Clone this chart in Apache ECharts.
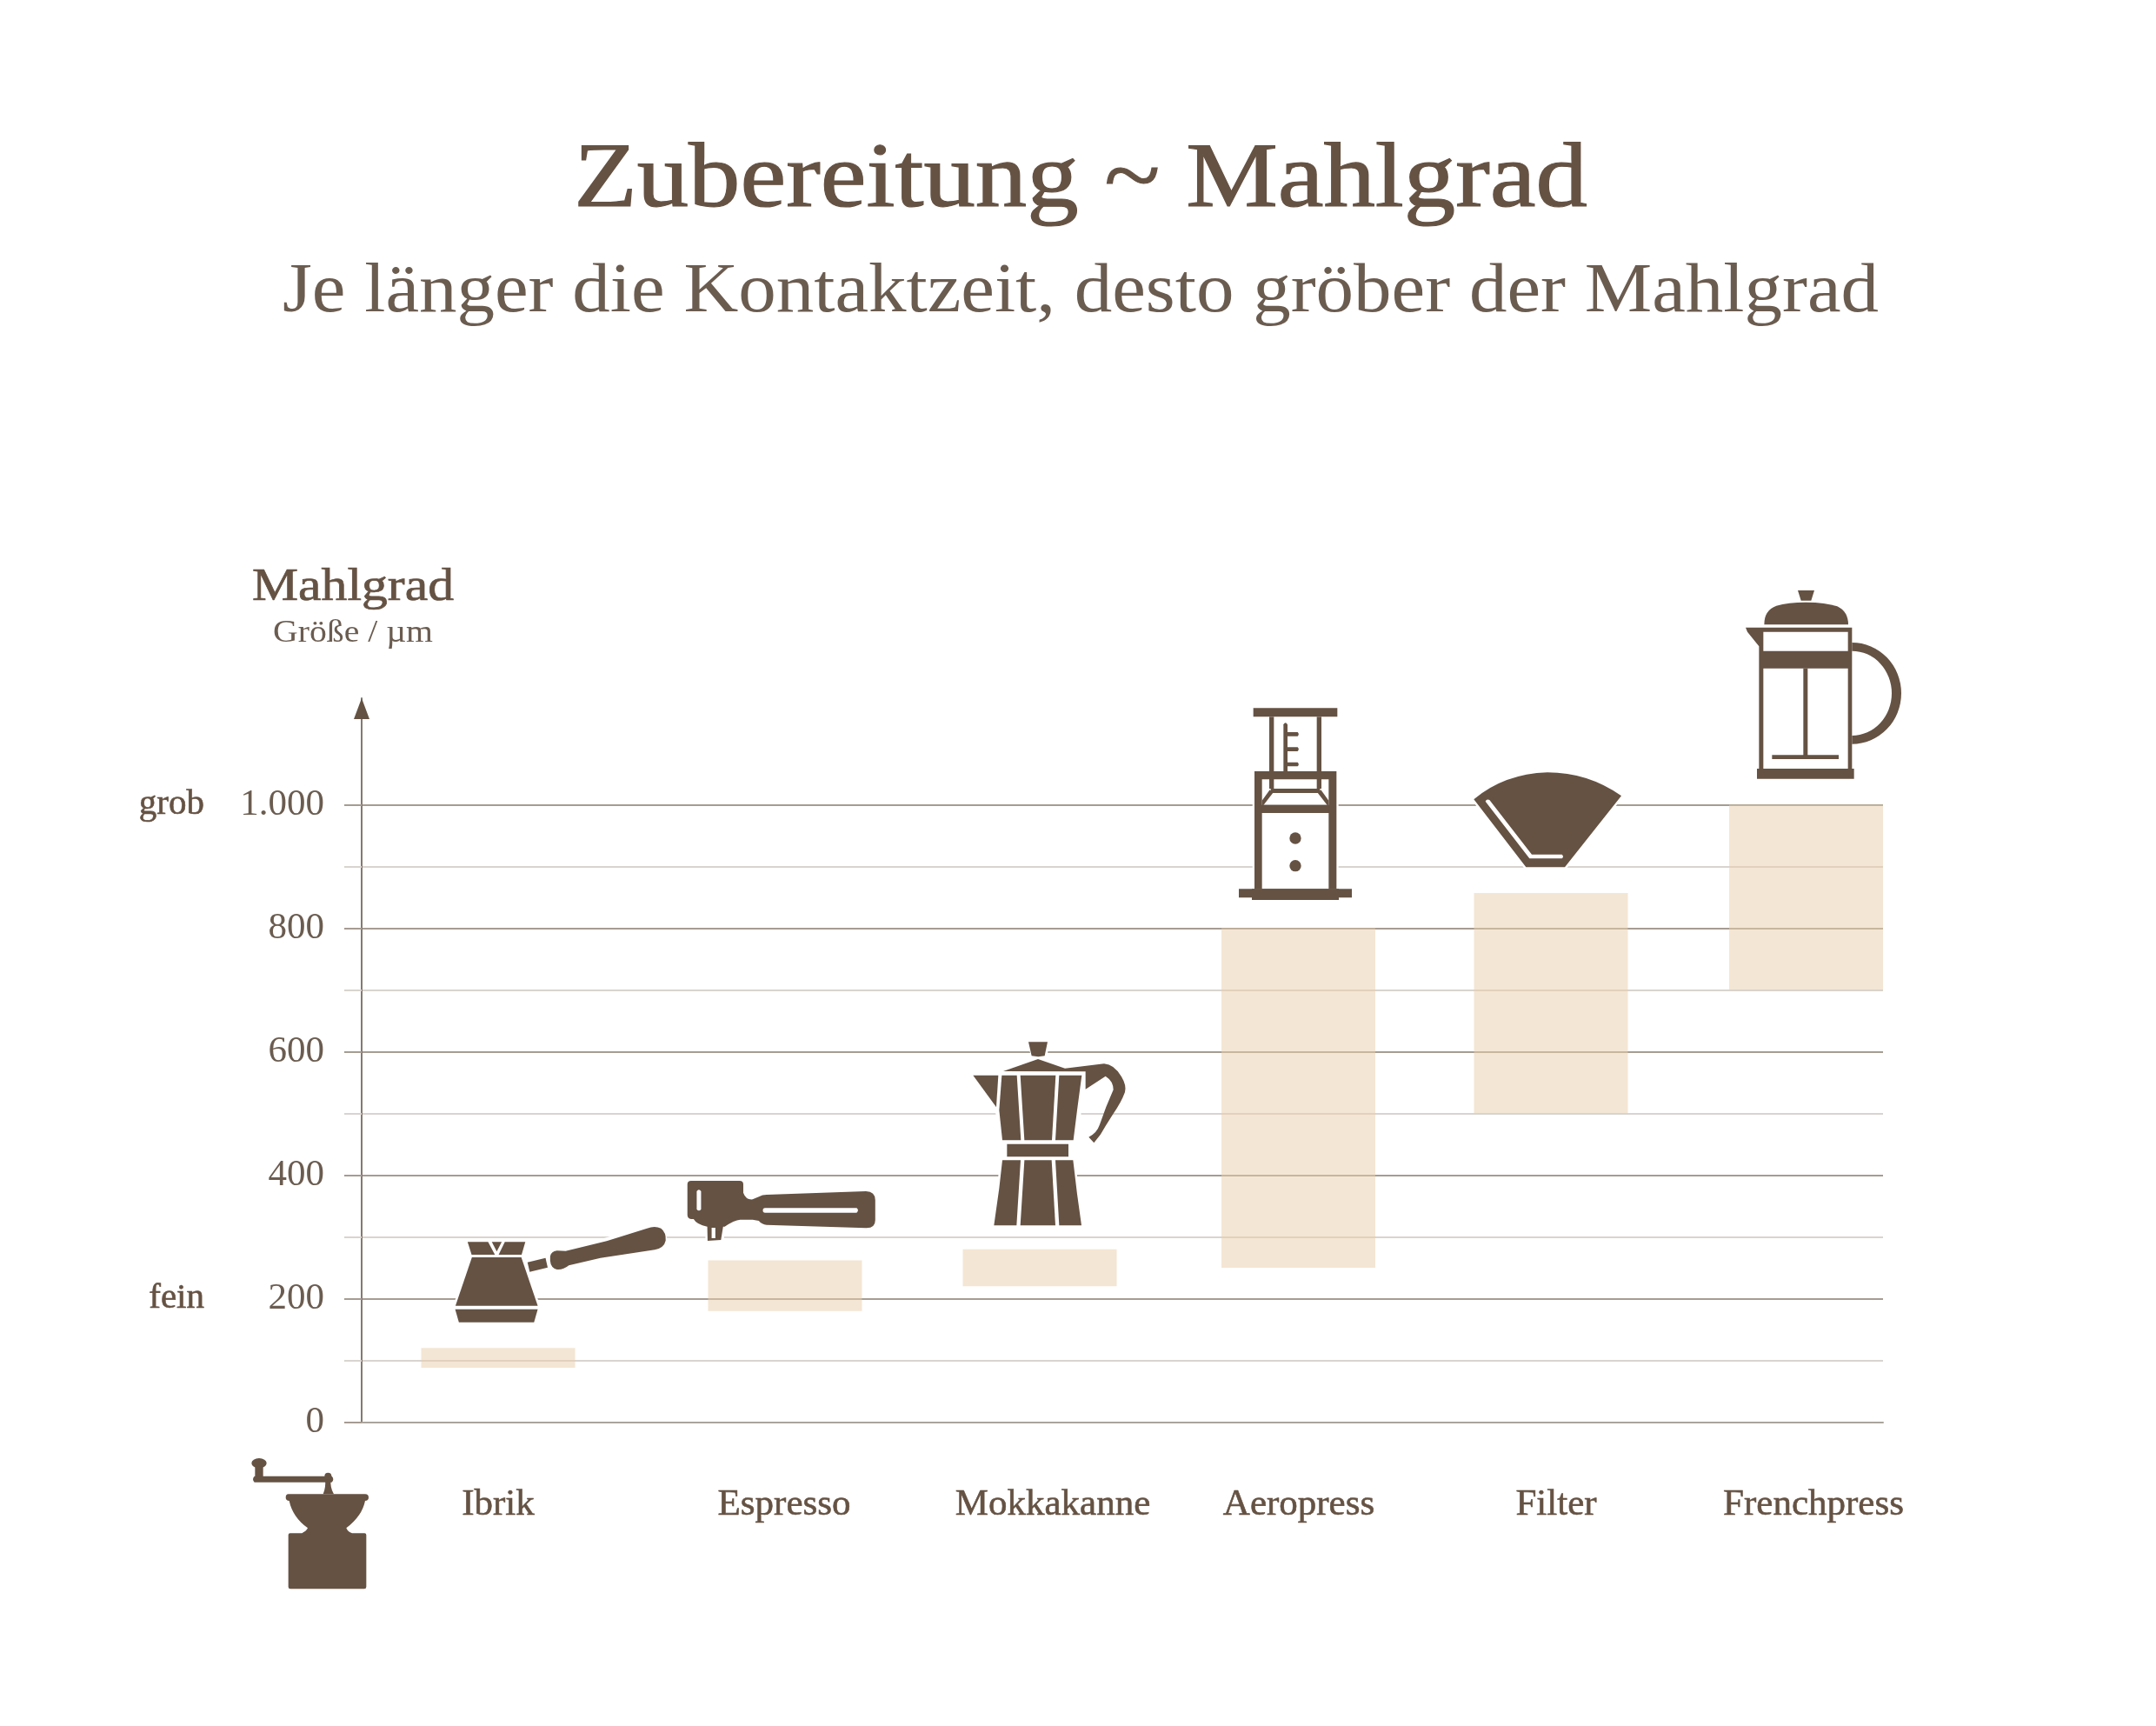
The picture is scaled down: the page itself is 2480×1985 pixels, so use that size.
<!DOCTYPE html>
<html><head><meta charset="utf-8">
<script src="https://cdn.jsdelivr.net/npm/echarts@6/dist/echarts.min.js"></script>
<style>html,body{margin:0;padding:0;background:#fff}#c{width:2480px;height:1985px}</style>
</head><body><div id="c"></div>
<script>
const categories = ['Ibrik','Espresso','Mokkakanne','Aeropress','Filter','Frenchpress'];
const grindLow  = [88,180,220,250,500,700];
const grindHigh = [120,262,280,800,857,1000];
const majorTicks = [0,200,400,600,800,1000];
const minorTicks = [100,300,500,700,900];
const qualityTicks = [200,1000];
const qualityLabels = ['fein','grob'];
// layout (horizontal slot positions along the hidden x scale)
const barCentres = [157,487,780,1077.5,1368,1661.5];
const barWidth = 177;
const labelCentres = [157,486,795,1078,1374,1670];

const BROWN='#655243', TEXT='#6b5c50', SERIF='"Liberation Serif",serif';

// ---------- icons: paths in crop units, origin = icon's top-left in the page
const R=(a,b,c,d)=>`M${a} ${b}L${c} ${b}L${c} ${d}L${a} ${d}Z`;
const H=(a,b,c,d)=>`M${a} ${b}L${a} ${d}L${c} ${d}L${c} ${b}Z`; // reversed winding = hole
const C=(x,y,r)=>`M${x-r} ${y}A${r} ${r} 0 1 1 ${x+r} ${y}A${r} ${r} 0 1 1 ${x-r} ${y}Z`;
const icons=[
 {o:[416,803],sx:1,sy:1,halo:'',p:['M0 0L9 24L-9 24Z']},
 {o:[480,1180],sx:1/2.8,halo:'M162 745L348 745L336 798L388 965L388 977L376 1022L134 1022L122 977L123 965L176 798ZM355 815L413 800L420 833L362 848Z'+
   'M428 795L450 775L478 776L740 698L785 698L800 740L765 772L590 800L488 826L450 840L428 810Z',
  p:['M162 745L228 745L250 789L175 789Z','M282 745L348 745L336 789L262 789Z','M240 745L272 745L256 778Z',
   'M176 798L335 798L388 965L123 965Z','M122 977L388 977L376 1022L134 1022Z','M355 815L413 800L420 833L362 848Z',
   'M428 795Q430 778 450 775L478 776L610 742L740 698Q765 688 785 698Q802 712 800 740Q795 765 765 772L590 800L488 826Q470 842 450 840Q430 835 428 810Z']},
 {o:[480,1180],sx:1/2.8,halo:'M870 550L1050 535L1050 580L1080 600L1110 585L1475 575L1475 695L1110 685L1080 670L1020 670L985 690L980 740L935 740L935 695L890 670L870 660Z',
  p:['M882 534L1038 534Q1050 534 1050 546L1050 575Q1058 600 1080 598L1102 588Q1110 582 1125 582L1445 570Q1475 572 1475 600L1475 670Q1475 698 1445 697L1125 686Q1110 685 1100 672L1080 668L1040 668Q1020 670 990 692L985 692L978 738L935 741L934 692Q900 685 890 666L882 666Q870 664 870 652L870 546Q870 534 882 534Z'+
     'M900 570L900 632Q907 642 914 632L914 570Q907 560 900 570Z'+
     'M1113 636Q1113 644 1120 644L1415 644Q1424 636 1415 628L1120 628Q1113 628 1113 636Z'+
     'M948 696L948 732L960 732L960 696Z']},
 {o:[1090,1180],halo:'M279 55L345 55L335 110L475 150L463 170L447 394L433 463L462 688L160 688L189 463L189 394L170 285L88 170L190 150L300 112Z',
  p:['M279 55L345 55L335 103L313 106L290 103Z',
   'M192 156L312 114L405 146L540 130Q575 132 600 175Q618 205 612 228Q600 262 570 305L545 345Q530 375 505 403L487 383Q515 370 525 340Q545 280 572 220Q572 190 545 173L476 218L476 157Z',
   'M88 170L175 170L168 280Z','M187 170L239 170L253 394L189 394L178 290Z','M251 170L373 170L360 394L265 394Z',
   'M385 170L463 170L447 290L434 394L372 394Z',R(205,407,417,451),'M189 463L252 463L238 688L160 688L178 560Z',
   'M265 463L359 463L372 688L251 688Z','M372 463L433 463L447 580L462 688L385 688Z']},
 {o:[1400,790],halo:R(125,73,415,103)+R(180,103,360,291)+R(129,291,412,697)+R(75,697,465,727)+R(120,697,420,735),
  p:[R(125,73,415,103),R(180,103,196,351),R(344,103,360,351),
   'M229 130Q236 118 243 130L243 292L229 292Z',
   'M243 156L278 156Q285 163 278 170L243 170Z','M243 208L278 208Q285 215 278 222L243 222Z','M243 260L278 260Q285 267 278 274L243 274Z',
   R(129,291,412,697)+H(155,319,385,407)+H(155,435,385,697),
   R(155,407,385,435),R(185,351,355,366),'M182 355L193 365L160 408L155 408L155 392Z','M358 355L347 365L380 408L385 408L385 392Z',
   R(75,697,465,727),R(120,697,420,735),C(270,522,20),C(270,617,20)]},
 {o:[1680,870],halo:'M46 148Q150 60 300 55Q440 55 555 136L360 382L226 382Z',
  p:['M46 148Q150 60 300 55Q440 55 555 136L360 382L226 382Z'+
     'M86 155L238 352L350 352Q358 345 350 338L246 338L100 150Q90 145 86 155Z']},
 {o:[1990,670],halo:'M234 27L291 27L280 62L370 82L408 145L420 155L421 207L590 382L421 557L428 642L428 677L93 677L100 642L100 220L54 155L118 145L160 80L245 62Z',
  p:['M234 27L291 27L280 62L245 62Z','M118 145Q118 95 160 80Q200 68 262 68Q330 68 370 82Q408 100 408 145Z',
   'M54 155L421 155L421 650L100 650L100 220L60 170Z'+H(115,170,407,236)+H(115,296,407,642),
   R(253,296,268,597),R(145,595,375,609),R(93,642,428,677),
   'M421 207A170 175 0 0 1 421 557L421 528A137 146 0 0 0 421 236Z']},
 {o:[270,1670],halo:'',
  p:['M58 38A26 17 0 1 1 110 38A26 17 0 1 1 58 38Z',R(70,50,98,88),'M68 83L335 83Q345 93 335 104L68 104Q58 93 68 83Z',C(322,83,12),
   'M305 145Q315 120 312 95L332 95Q328 120 342 145Z',
   'M185 145L450 145Q462 145 462 157Q462 168 450 168Q440 220 385 262Q390 275 405 280L448 280Q454 280 454 286L454 465Q454 472 447 472L192 472Q185 472 185 465L185 286Q185 280 191 280L232 280Q248 272 252 262Q200 225 188 168Q176 168 176 157Q176 145 185 145Z']}
];
const renderIcon=(params,api)=>{
  const ic=icons[api.value(0)];
  const children=[];
  if(ic.halo) children.push({type:'path',shape:{pathData:ic.halo},style:{fill:'#fff',stroke:'#fff',lineWidth:14}});
  ic.p.forEach(d=>children.push({type:'path',shape:{pathData:d},style:{fill:BROWN}}));
  return {type:'group',x:ic.o[0],y:ic.o[1],scaleX:ic.sx||1/3,scaleY:ic.sy||1/3,children};
};
const headText=(text,x,y,size,fill,sx,bold)=>({type:'text',x,y,scaleX:sx,silent:true,
  style:{text,fontFamily:SERIF,fontSize:size,fill,textAlign:'center',textVerticalAlign:'middle',
    stroke:bold?fill:null,lineWidth:bold||0}});

const commonY={type:'value',min:0,max:1172.5,position:'left'};
const chart=echarts.init(document.getElementById('c'),null,{renderer:'canvas'});
chart.setOption({
  animation:false,
  backgroundColor:'#fff',
  grid:{left:416,right:314,top:803,bottom:349.5,containLabel:false},
  xAxis:{type:'value',min:0,max:1750,
    axisLine:{show:true,onZero:false,lineStyle:{color:'#aaa49c',width:2}},
    axisTick:{show:false},splitLine:{show:false},
    axisLabel:{customValues:labelCentres,margin:74,fontFamily:SERIF,fontSize:43,color:BROWN,
      textBorderColor:BROWN,textBorderWidth:0.6,
      formatter:v=>categories[labelCentres.indexOf(v)]}},
  yAxis:[
    {...commonY,
      axisLine:{show:true,symbol:'none',lineStyle:{color:'#857a70',width:2}},
      axisTick:{show:true,customValues:majorTicks,length:20,lineStyle:{color:'#a59c92',width:2}},
      axisLabel:{customValues:majorTicks,margin:43,fontFamily:SERIF,fontSize:43,color:TEXT,
        formatter:v=>v===1000?'1.000':String(v)},
      splitLine:{show:true,lineStyle:{color:'#a59c92',width:2}}},
    {...commonY,axisLine:{show:false},
      axisTick:{show:true,customValues:minorTicks,length:20,lineStyle:{color:'#d8d4cf',width:2}},
      axisLabel:{show:false},
      splitLine:{show:true,lineStyle:{color:'#d8d4cf',width:2}}},
    {...commonY,axisLine:{show:false},axisTick:{show:false,customValues:qualityTicks},splitLine:{show:false},
      axisLabel:{customValues:qualityTicks,margin:181,fontFamily:SERIF,fontSize:41,color:BROWN,padding:[8,0,0,0],
        textBorderColor:BROWN,textBorderWidth:0.6,
        formatter:v=>qualityLabels[qualityTicks.indexOf(v)]}}
  ],
  graphic:{elements:[
    headText('Zubereitung ~ Mahlgrad',1243,209,105,BROWN,1.131,1.2),
    headText('Je länger die Kontaktzeit, desto gröber der Mahlgrad',1243,337,80,TEXT,1.0875),
    headText('Mahlgrad',406,676,53,BROWN,1.126,0.7),
    headText('Größe / µm',406,729,35,TEXT,1.135)
  ]},
  series:[{
    type:'custom',name:'Mahlgrad',coordinateSystem:'cartesian2d',z:1,
    data:categories.map((c,i)=>[barCentres[i],grindLow[i],grindHigh[i]]),
    encode:{x:0,y:[1,2]},
    renderItem:(params,api)=>{
      const lo=api.coord([api.value(0),api.value(1)]);
      const hi=api.coord([api.value(0),api.value(2)]);
      const w=api.size([barWidth,0])[0];
      return {type:'rect',shape:{x:lo[0]-w/2,y:hi[1],width:w,height:lo[1]-hi[1]},style:{fill:'#e9cda9',opacity:0.5}};
    }
  },{
    type:'custom',name:'Icons',coordinateSystem:'none',z:10,silent:true,clip:false,
    data:icons.map((ic,i)=>[i]),
    renderItem:renderIcon
  }]
});
</script></body></html>
